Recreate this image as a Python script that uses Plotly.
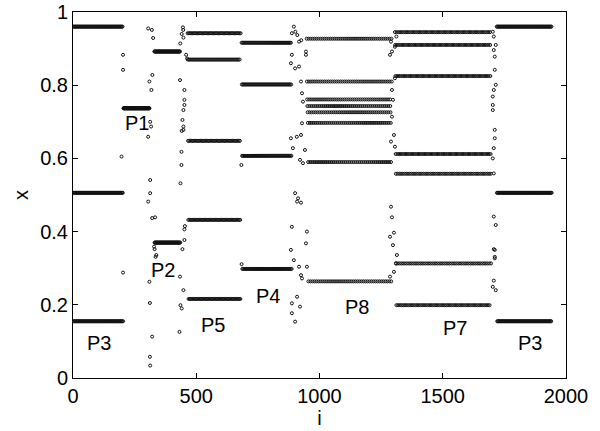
import plotly.graph_objects as go

# Periodic windows: i-range and orbit levels
seg_names = ["P3", "P1", "P2", "P5", "P4", "P8", "P7", "P3"]
seg_start = [0, 205, 330, 465, 684, 948, 1306, 1719]
seg_end = [203, 310, 435, 680, 887, 1293, 1696, 1942]
seg_levels = [
    [0.960, 0.506, 0.155],
    [0.737],
    [0.892, 0.370],
    [0.942, 0.870, 0.648, 0.432, 0.216],
    [0.916, 0.802, 0.607, 0.298],
    [0.927, 0.810, 0.761, 0.743, 0.726, 0.697, 0.590, 0.264],
    [0.945, 0.910, 0.825, 0.612, 0.558, 0.313, 0.199],
    [0.960, 0.506, 0.155],
]

# Transient points between windows (i, x)
trans_i = [203, 203, 197, 203, 305, 320, 325, 322, 310, 318, 313, 317, 305, 313, 313,
           305, 321, 333, 331, 310, 312, 321, 313, 329, 335, 338, 312,
           447, 441, 435, 459, 463, 434, 452, 452, 452, 448, 444, 448, 448, 440, 440,
           436, 452, 444, 434, 448, 436, 432, 454, 452, 441, 448, 446, 441,
           683, 684,
           896, 902, 910, 888, 917, 926, 888, 945, 945, 884, 901, 917, 925, 929, 933,
           929, 884, 908, 925, 892, 941, 921, 933, 901, 913, 909, 925, 888, 949, 945,
           884, 896, 917, 949, 925, 929, 909, 888, 921, 888, 901,
           1312, 1290, 1306, 1294, 1286, 1306, 1294, 1298, 1294, 1302, 1290, 1306,
           1290, 1294, 1286, 1302, 1314, 1298, 1286, 1302, 1310,
           1703, 1707, 1715, 1707, 1711, 1711, 1715, 1707, 1703, 1703, 1703, 1711,
           1711, 1707, 1703, 1707, 1707, 1715, 1707, 1711, 1711, 1707, 1715, 1703,
           1711]
trans_x = [0.883, 0.842, 0.605, 0.288, 0.955, 0.951, 0.929, 0.828, 0.810, 0.787, 0.700,
           0.687, 0.659, 0.541, 0.505, 0.482, 0.437, 0.439, 0.352, 0.263, 0.205, 0.113,
           0.034, 0.359, 0.331, 0.336, 0.058,
           0.951, 0.940, 0.914, 0.883, 0.873, 0.814, 0.787, 0.760, 0.746, 0.732, 0.705,
           0.687, 0.678, 0.618, 0.582, 0.532, 0.377, 0.352, 0.277, 0.240, 0.199, 0.126,
           0.415, 0.406, 0.190, 0.930, 0.958, 0.675,
           0.582, 0.311,
           0.960, 0.946, 0.937, 0.942, 0.919, 0.923, 0.883, 0.892, 0.883, 0.860, 0.846,
           0.851, 0.810, 0.778, 0.755, 0.696, 0.655, 0.659, 0.664, 0.628, 0.623, 0.596,
           0.587, 0.505, 0.491, 0.482, 0.479, 0.413, 0.400, 0.368, 0.350, 0.322, 0.304,
           0.304, 0.281, 0.272, 0.222, 0.204, 0.195, 0.177, 0.154,
           0.933, 0.919, 0.905, 0.892, 0.883, 0.819, 0.787, 0.760, 0.714, 0.664, 0.646,
           0.632, 0.468, 0.439, 0.386, 0.397, 0.336, 0.363, 0.277, 0.290, 0.313,
           0.946, 0.933, 0.910, 0.896, 0.878, 0.842, 0.801, 0.787, 0.769, 0.746, 0.732,
           0.678, 0.655, 0.628, 0.600, 0.559, 0.441, 0.418, 0.352, 0.331, 0.327, 0.266,
           0.240, 0.249, 0.350]

# Window labels: text, i, x
label_text = ["P3", "P1", "P2", "P5", "P4", "P8", "P7", "P3"]
label_i = [105, 258, 367, 569, 792, 1153, 1550, 1854]
label_x = [0.095, 0.696, 0.295, 0.145, 0.224, 0.195, 0.136, 0.095]

xs, ys = [], []
for s, e, lev in zip(seg_start, seg_end, seg_levels):
    for k, i in enumerate(range(s, e + 1)):
        xs.append(i)
        ys.append(lev[k % len(lev)])
xs += trans_i
ys += trans_x

FONT = "Liberation Sans, Arial"

fig = go.Figure()
fig.add_trace(go.Scatter(
    x=xs, y=ys, mode="markers",
    marker=dict(symbol="circle-open", size=3, color="#111111", line=dict(width=1, color="#111111")),
    showlegend=False, hoverinfo="skip",
))

for t, xi, yi in zip(label_text, label_i, label_x):
    fig.add_annotation(x=xi, y=yi, text=t, showarrow=False, xref="x", yref="y",
                       font=dict(family=FONT, size=20, color="black"))

axis_common = dict(
    showline=True, linecolor="black", linewidth=1, mirror="ticks",
    ticks="inside", ticklen=5, tickcolor="black", showgrid=False, zeroline=False,
    automargin=False, ticklabeloverflow="allow",
    tickfont=dict(family=FONT, size=20, color="black"),
)
fig.update_xaxes(range=[0, 2000], tickvals=[0, 500, 1000, 1500, 2000],
                 ticktext=["0", "500", "1000", "1500", "2000"],
                 title=dict(text="i", font=dict(family=FONT, size=20, color="black"), standoff=0),
                 **axis_common)
fig.update_yaxes(range=[0, 1], tickvals=[0, 0.2, 0.4, 0.6, 0.8, 1],
                 ticktext=["0", "0.2", "0.4", "0.6", "0.8", "1"],
                 title=dict(text="x", font=dict(family=FONT, size=20, color="black"), standoff=6),
                 **axis_common)
fig.update_layout(
    width=600, height=431,
    margin=dict(l=73, r=34, t=12, b=53),
    paper_bgcolor="white", plot_bgcolor="white",
)
fig.write_html("out.html", config={"displayModeBar": False, "staticPlot": True},
               post_script="document.body.style.margin='0';")
